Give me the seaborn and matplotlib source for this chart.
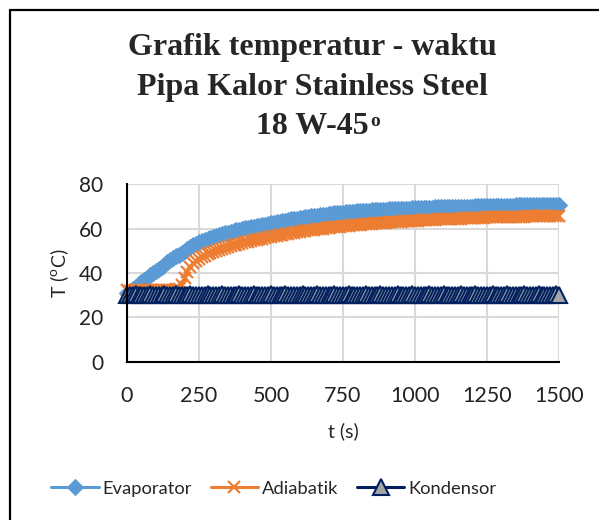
import numpy as np
import pandas as pd
import matplotlib
matplotlib.use("Agg")
import matplotlib.pyplot as plt
from matplotlib.lines import Line2D
import seaborn as sns

# waktu (s), tiap 10 detik
t = list(range(0, 1510, 10))

evaporator = [
    31.0, 31.8, 32.9, 33.8, 34.9, 35.8, 36.9, 37.9, 38.9, 39.8,
    40.9, 41.8, 42.9, 43.8, 44.8, 45.7, 46.7, 47.5, 48.3, 49.1,
    49.9, 50.8, 51.7, 52.5, 53.2, 53.8, 54.3, 54.8, 55.3, 55.8,
    56.3, 56.7, 57.1, 57.5, 57.9, 58.2, 58.6, 58.9, 59.2, 59.5,
    59.8, 60.1, 60.3, 60.6, 60.8, 61.1, 61.3, 61.6, 61.8, 62.1,
    62.3, 62.6, 62.8, 63.1, 63.3, 63.6, 63.8, 64.1, 64.3, 64.5,
    64.7, 64.9, 65.1, 65.3, 65.5, 65.7, 65.8, 66.0, 66.2, 66.3,
    66.5, 66.6, 66.8, 66.9, 67.0, 67.2, 67.3, 67.4, 67.5, 67.6,
    67.7, 67.8, 67.9, 68.0, 68.1, 68.2, 68.2, 68.3, 68.4, 68.5,
    68.5, 68.6, 68.7, 68.7, 68.8, 68.9, 68.9, 69.0, 69.0, 69.1,
    69.1, 69.2, 69.2, 69.3, 69.3, 69.4, 69.4, 69.5, 69.5, 69.5,
    69.6, 69.6, 69.7, 69.7, 69.7, 69.8, 69.8, 69.8, 69.9, 69.9,
    69.9, 70.0, 70.0, 70.0, 70.1, 70.1, 70.1, 70.2, 70.2, 70.2,
    70.2, 70.3, 70.3, 70.3, 70.3, 70.4, 70.4, 70.4, 70.4, 70.5,
    70.5, 70.5, 70.5, 70.5, 70.6, 70.6, 70.6, 70.6, 70.6, 70.7,
    70.7,
]

adiabatik = [
    32.3, 32.1, 32.4, 32.2, 32.3, 32.1, 32.4, 32.2, 32.3, 32.2,
    32.4, 32.3, 32.2, 32.4, 32.3, 32.5, 32.4, 32.6, 32.8, 34.5,
    37.8, 40.6, 42.8, 44.3, 45.4, 46.3, 47.1, 47.8, 48.4, 49.0,
    49.5, 50.0, 50.5, 50.9, 51.3, 51.7, 52.1, 52.5, 52.8, 53.2,
    53.5, 53.8, 54.1, 54.4, 54.7, 55.0, 55.3, 55.5, 55.8, 56.1,
    56.3, 56.6, 56.8, 57.1, 57.3, 57.5, 57.7, 58.0, 58.2, 58.4,
    58.6, 58.8, 59.0, 59.2, 59.4, 59.5, 59.7, 59.9, 60.0, 60.2,
    60.3, 60.5, 60.6, 60.8, 60.9, 61.0, 61.2, 61.3, 61.4, 61.5,
    61.7, 61.8, 61.9, 62.0, 62.1, 62.2, 62.3, 62.4, 62.5, 62.6,
    62.7, 62.8, 62.9, 63.0, 63.0, 63.1, 63.2, 63.3, 63.4, 63.4,
    63.5, 63.6, 63.7, 63.7, 63.8, 63.9, 63.9, 64.0, 64.1, 64.1,
    64.2, 64.3, 64.3, 64.4, 64.4, 64.5, 64.5, 64.6, 64.6, 64.7,
    64.7, 64.8, 64.8, 64.9, 64.9, 65.0, 65.0, 65.0, 65.1, 65.1,
    65.2, 65.2, 65.2, 65.3, 65.3, 65.3, 65.4, 65.4, 65.4, 65.5,
    65.5, 65.5, 65.6, 65.6, 65.6, 65.6, 65.7, 65.7, 65.7, 65.7,
    65.8,
]

kondensor = [
    30.3, 30.2, 30.3, 30.4, 30.3, 30.2, 30.3, 30.3, 30.4, 30.3,
    30.2, 30.3, 30.3, 30.4, 30.3, 30.2, 30.3, 30.4, 30.3, 30.3,
    30.2, 30.3, 30.4, 30.3, 30.3, 30.2, 30.3, 30.3, 30.4, 30.3,
    30.3, 30.2, 30.3, 30.4, 30.3, 30.3, 30.2, 30.3, 30.3, 30.4,
    30.3, 30.3, 30.2, 30.3, 30.4, 30.3, 30.3, 30.2, 30.3, 30.3,
    30.4, 30.3, 30.3, 30.2, 30.3, 30.4, 30.3, 30.3, 30.2, 30.3,
    30.3, 30.4, 30.3, 30.3, 30.2, 30.3, 30.4, 30.3, 30.3, 30.2,
    30.3, 30.3, 30.4, 30.3, 30.3, 30.2, 30.3, 30.4, 30.3, 30.3,
    30.2, 30.3, 30.3, 30.4, 30.3, 30.3, 30.2, 30.3, 30.4, 30.3,
    30.3, 30.2, 30.3, 30.3, 30.4, 30.3, 30.3, 30.2, 30.3, 30.4,
    30.3, 30.3, 30.2, 30.3, 30.3, 30.4, 30.3, 30.3, 30.2, 30.3,
    30.4, 30.3, 30.3, 30.2, 30.3, 30.3, 30.4, 30.3, 30.3, 30.2,
    30.3, 30.4, 30.3, 30.3, 30.2, 30.3, 30.3, 30.4, 30.3, 30.3,
    30.2, 30.3, 30.4, 30.3, 30.3, 30.2, 30.3, 30.3, 30.4, 30.3,
    30.3, 30.2, 30.3, 30.4, 30.3, 30.3, 30.2, 30.3, 30.3, 30.4,
    30.3,
]

x_ticks = [0, 250, 500, 750, 1000, 1250, 1500]
y_ticks = [0, 20, 40, 60, 80]
title_lines = ["Grafik temperatur - waktu", "Pipa Kalor Stainless Steel", "18 W-45"]

sns.set_style("white")
plt.rcParams["font.family"] = ["Lato", "DejaVu Sans"]
plt.rcParams["mathtext.fontset"] = "custom"
plt.rcParams["mathtext.rm"] = "Lato"

fig = plt.figure(figsize=(5.99, 5.20), dpi=100)
ax = fig.add_axes([0.212, 0.304, 0.721, 0.342])

sns.lineplot(x=t, y=evaporator, ax=ax, color="#5B9BD5", linewidth=2.2,
             marker="D", markersize=8, markeredgecolor="#5B9BD5",
             label="Evaporator", clip_on=False, zorder=3)
sns.lineplot(x=t, y=adiabatik, ax=ax, color="#ED7D31", linewidth=2.2,
             marker="x", markersize=9, markeredgewidth=1.6,
             markeredgecolor="#ED7D31",
             label="Adiabatik", clip_on=False, zorder=4)
sns.lineplot(x=t, y=kondensor, ax=ax, color="#002060", linewidth=2.2,
             marker="^", markersize=11, markerfacecolor="#A5A5A5",
             markeredgecolor="#002060", markeredgewidth=1.5,
             label="Kondensor", clip_on=False, zorder=5)

ax.set_xlim(0, 1500)
ax.set_ylim(0, 80)
ax.set_xticks(x_ticks)
ax.set_yticks(y_ticks)
ax.set_xticklabels([str(v) for v in x_ticks], fontsize=15.5)
ax.set_yticklabels([str(v) for v in y_ticks], fontsize=15)
ax.tick_params(axis="x", length=0, pad=17, colors="#222222")
ax.tick_params(axis="y", length=0, pad=17, colors="#222222")
ax.grid(True, color="#D9D9D9", linewidth=1.5)
ax.set_axisbelow(True)
for s in ["top", "right"]:
    ax.spines[s].set_visible(False)
for s in ["left", "bottom"]:
    ax.spines[s].set_color("black")
    ax.spines[s].set_linewidth(1.5)
    ax.spines[s].set_zorder(6)

ax.set_xlabel("t (s)", fontsize=14, labelpad=12)
ax.set_ylabel("T ($^{\\mathrm{o}}$C)", fontsize=14, labelpad=6)

# judul, tiga baris
title_y = [47, 87, 127]
for line, py in zip(title_lines, title_y):
    txt = fig.text(0.522, 1 - py / 520, line, ha="center", va="center",
                   fontsize=23, fontweight="bold", family="Liberation Serif")
fig.canvas.draw()
bb = txt.get_window_extent(fig.canvas.get_renderer())
fig.text((bb.x1 + 1) / 599, (bb.y1 - 9) / 520, "o", ha="left", va="center",
         fontsize=14, fontweight="bold", family="Liberation Serif")

ax.legend(loc="center", bbox_to_anchor=(0.457, 0.06),
          bbox_transform=fig.transFigure, ncol=3, frameon=False,
          fontsize=13.2, handlelength=2.6, handletextpad=0.2,
          columnspacing=1.0)

# bingkai area grafik
fig.add_artist(Line2D([10 / 599, 10 / 599], [-0.1, 1 - 10 / 520], color="black", linewidth=1.6))
fig.add_artist(Line2D([10 / 599, 1.1], [1 - 10 / 520, 1 - 10 / 520], color="black", linewidth=1.6))

fig.savefig("out.png", dpi=100)
